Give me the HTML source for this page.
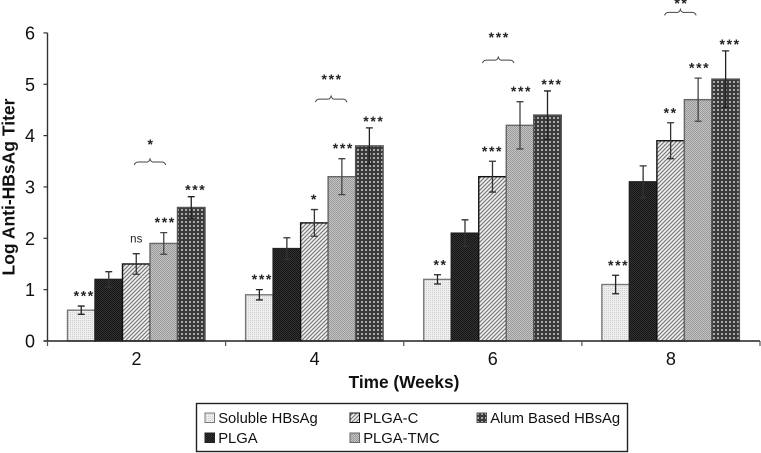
<!DOCTYPE html>
<html>
<head>
<meta charset="utf-8">
<style>
html,body{margin:0;padding:0;background:#fff;}
svg{display:block;font-family:"Liberation Sans",sans-serif;}
</style>
</head>
<body>
<svg id="chart" xmlns="http://www.w3.org/2000/svg" width="761" height="453" viewBox="0 0 761 453">
<defs>
<pattern id="p0" width="2" height="2" patternUnits="userSpaceOnUse"><rect width="2" height="2" fill="#eeeeee"/><rect width="1" height="1" fill="#cfcfcf"/></pattern>
<pattern id="p1" width="2" height="2" patternUnits="userSpaceOnUse"><rect width="2" height="2" fill="#333333"/><rect width="1" height="1" fill="#151515"/><rect x="1" y="1" width="1" height="1" fill="#151515"/></pattern>
<pattern id="p2" width="4" height="4" patternUnits="userSpaceOnUse"><rect width="4" height="4" fill="#f4f4f4"/><path d="M-1 3L3-1M1 5L5 1" stroke="#7a7a7a" stroke-width="1.2"/></pattern>
<pattern id="p3" width="2" height="2" patternUnits="userSpaceOnUse"><rect width="2" height="2" fill="#c4c4c4"/><rect width="1" height="1" fill="#999999"/><rect x="1" y="1" width="1" height="1" fill="#999999"/></pattern>
<pattern id="p4" width="4" height="4" patternUnits="userSpaceOnUse"><rect width="4" height="4" fill="#3a3a3a"/><rect x="1" y="1" width="2" height="2" fill="#a8a8a8"/></pattern>
</defs>
<g id="bars"></g>
<g id="axes"></g>
<g id="annotations"></g>
<g id="legend"></g>
</svg>
<script>
const categories = ['2', '4', '6', '8'];
const seriesNames = ['Soluble HBsAg', 'PLGA', 'PLGA-C', 'PLGA-TMC', 'Alum Based HBsAg'];
const solubleValues = [0.6, 0.9, 1.2, 1.1];
const plgaValues = [1.2, 1.8, 2.1, 3.1];
const plgaCValues = [1.5, 2.3, 3.2, 3.9];
const plgaTmcValues = [1.9, 3.2, 4.2, 4.7];
const alumValues = [2.6, 3.8, 4.4, 5.1];
const solubleErrors = [0.08, 0.1, 0.09, 0.18];
const plgaErrors = [0.15, 0.21, 0.26, 0.31];
const plgaCErrors = [0.2, 0.26, 0.3, 0.35];
const plgaTmcErrors = [0.21, 0.35, 0.46, 0.42];
const alumErrors = [0.21, 0.35, 0.47, 0.55];
const solubleSigns = ['***', '***', '**', '***'];
const plgaSigns = ['', '', '', ''];
const plgaCSigns = ['ns', '*', '***', '**'];
const plgaTmcSigns = ['***', '***', '***', '***'];
const alumSigns = ['***', '***', '***', '***'];
const bracketLevels = [3.486, 4.71, 5.47, 6.4];
const bracketSignLevels = [3.84, 5.1, 5.92, 6.58];
const bracketSigns = ['*', '***', '***', '**'];
const yTicks = [0, 1, 2, 3, 4, 5, 6];

const allValues = [solubleValues, plgaValues, plgaCValues, plgaTmcValues, alumValues];
const allErrors = [solubleErrors, plgaErrors, plgaCErrors, plgaTmcErrors, alumErrors];
const allSigns = [solubleSigns, plgaSigns, plgaCSigns, plgaTmcSigns, alumSigns];
const strokes = ['#777777', '#222222', '#111111', '#666666', '#555555'];
const errStrokes = ['#222222', '#333333', '#333333', '#444444', '#222222'];

const NS = 'http://www.w3.org/2000/svg';
const X0 = 47.5, X1 = 760, Y0 = 341, UNIT = 51.35, BAR = 27.5, PAD = 20;
const band = (X1 - X0) / categories.length;
const yScale = v => Y0 - v * UNIT;
const xScale = (c, s) => X0 + c * band + PAD + s * BAR;

function add(parent, tag, attrs, text) {
  const el = document.createElementNS(NS, tag);
  for (const k in attrs) el.setAttribute(k, attrs[k]);
  if (text !== undefined) el.textContent = text;
  parent.appendChild(el);
  return el;
}
const barsG = document.getElementById('bars');
const axesG = document.getElementById('axes');
const annG = document.getElementById('annotations');
const legG = document.getElementById('legend');

categories.forEach((cat, c) => {
  allValues.forEach((vals, s) => {
    const v = vals[c], e = allErrors[s][c], x = xScale(c, s), cx = x + BAR / 2;
    const bar = add(barsG, 'rect', {x: x, y: yScale(v), width: BAR, height: Y0 - yScale(v), fill: 'url(#p' + s + ')', stroke: strokes[s], 'stroke-width': 1.4});
    
    
    const err = add(barsG, 'path', {d: 'M' + cx + ' ' + yScale(v + e) + 'V' + yScale(v - e) + 'M' + (cx - 3.5) + ' ' + yScale(v + e) + 'h7M' + (cx - 3.5) + ' ' + yScale(v - e) + 'h7', fill: 'none', stroke: errStrokes[s], 'stroke-width': 1.3});
    
    
    const sign = allSigns[s][c];
    if (sign) {
      const isNs = sign === 'ns';
      const nudge = s === 0 ? 3 : s === 4 ? 4.5 : s === 3 ? 1.5 : 0;
      const lab = add(annG, 'text', {x: cx + nudge, y: yScale(v + e) - (isNs ? 11 : (s === 4 ? 2 : 5.5)), 'text-anchor': 'middle', 'font-size': isNs ? 11.5 : 14, 'font-weight': isNs ? 'normal' : 'bold', 'letter-spacing': isNs ? 0 : 1.6, fill: '#222'}, sign);
      
      
    }
  });
  const shift = c === 1 ? 3 : c === 2 ? -8 : c === 3 ? -4 : 0;
  const bx1 = xScale(c, 2) + BAR / 2 - 2 + shift, bx2 = xScale(c, 3) + BAR / 2 + 2 + shift, by = yScale(bracketLevels[c]), mid = (bx1 + bx2) / 2;
  const br = add(annG, 'path', {d: 'M' + bx1 + ' ' + (by + 3) + 'q1 -3 4 -3H' + (mid - 3) + 'q2 0 3 -3q1 3 3 3H' + (bx2 - 4) + 'q3 0 4 3', fill: 'none', stroke: '#444', 'stroke-width': 1});
  
  
  const bs = add(annG, 'text', {x: mid + 1, y: yScale(bracketSignLevels[c]) + 5, 'text-anchor': 'middle', 'font-size': 14, 'font-weight': 'bold', 'letter-spacing': 1.6, fill: '#222'}, bracketSigns[c]);
  
  

  const catLabel = add(axesG, 'text', {x: X0 + c * band + band / 2, y: 365, 'text-anchor': 'middle', 'font-size': 18, fill: '#111'}, cat);
  
  
});

const yAxis = add(axesG, 'line', {x1: X0, x2: X0, y1: yScale(6), y2: Y0, stroke: '#333', 'stroke-width': 1.4});


const xAxis = add(axesG, 'line', {x1: X0 - 4, x2: X1, y1: Y0, y2: Y0, stroke: '#222', 'stroke-width': 1.4});



yTicks.forEach(t => {
  const tk = add(axesG, 'line', {x1: X0 - 4, x2: X0, y1: yScale(t), y2: yScale(t), stroke: '#333', 'stroke-width': 1.2});
  
  
  const lb = add(axesG, 'text', {x: 35, y: yScale(t) + 6.5, 'text-anchor': 'end', 'font-size': 18, fill: '#111'}, t);
  
  
});
for (let i = 0; i <= categories.length; i++) {
  const tk = add(axesG, 'line', {x1: X0 + i * band, x2: X0 + i * band, y1: Y0, y2: Y0 + 5, stroke: '#555', 'stroke-width': 1.2});
  
  
}

const yTitle = add(axesG, 'text', {transform: 'translate(14.5 187) rotate(-90)', 'text-anchor': 'middle', 'font-size': 17.5, 'font-weight': 'bold', fill: '#111'}, 'Log Anti-HBsAg Titer');


const xTitle = add(axesG, 'text', {x: 404, y: 388, 'text-anchor': 'middle', 'font-size': 17.3, 'font-weight': 'bold', fill: '#111'}, 'Time (Weeks)');



const box = add(legG, 'rect', {x: 196.5, y: 403.5, width: 431, height: 48, fill: '#fff', stroke: '#222', 'stroke-width': 1.4});


const legendCols = [205, 205, 350, 350, 477];
const legendRows = [418, 438, 418, 438, 418];
seriesNames.forEach((name, s) => {
  const lx = legendCols[s], ly = legendRows[s];
  const sw = add(legG, 'rect', {x: lx, y: ly - 5, width: 9.5, height: 9.5, fill: 'url(#p' + s + ')', stroke: strokes[s], 'stroke-width': 1});
  
  
  const tx = add(legG, 'text', {x: lx + 13.2, y: ly + 5, 'font-size': 14.8, fill: '#111'}, name);
  
  
});
</script>
</body>
</html>
